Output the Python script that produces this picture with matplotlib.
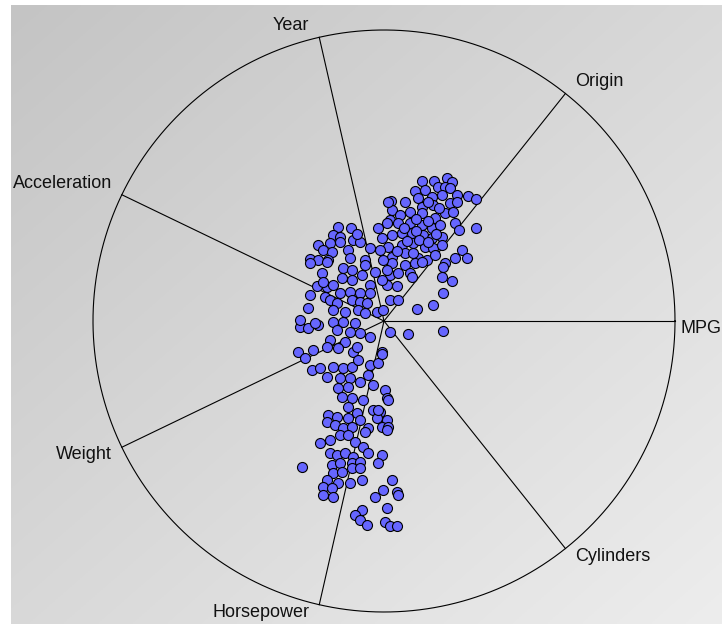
import numpy as np
import matplotlib.pyplot as plt

plt.rcParams['font.family'] = ['Liberation Sans', 'DejaVu Sans']

# radviz anchors, clockwise from MPG
anchors = ["MPG", "Cylinders", "Horsepower", "Weight", "Acceleration", "Year", "Origin"]

# projected points (unit circle coords)
cluster_upper = [
    (0.130, 0.482), (0.173, 0.482), (0.215, 0.490), (0.233, 0.479),
    (0.107, 0.448), (0.141, 0.450), (0.187, 0.462), (0.210, 0.462), (0.227, 0.456),
    (0.290, 0.430), (0.315, 0.418),
    (0.024, 0.413), (0.072, 0.410), (0.118, 0.422), (0.164, 0.427), (0.198, 0.433), (0.250, 0.433),
    (0.130, 0.393), (0.169, 0.399), (0.227, 0.404), (0.250, 0.410),
    (0.026, 0.381), (0.055, 0.364), (0.089, 0.376), (0.132, 0.370), (0.175, 0.353), (0.210, 0.370),
    (0.238, 0.376), (0.244, 0.336), (0.258, 0.313), (0.315, 0.319),
    (0.021, 0.347), (0.049, 0.336), (0.089, 0.336), (0.130, 0.330), (0.164, 0.319), (0.192, 0.330),
    (0.026, 0.296), (0.061, 0.301), (0.095, 0.301), (0.135, 0.296), (0.164, 0.284), (0.198, 0.290),
    (0.015, 0.255), (0.061, 0.261), (0.101, 0.267), (0.141, 0.255), (0.169, 0.250), (0.198, 0.261),
    (0.026, 0.221), (0.072, 0.233), (0.118, 0.215), (0.147, 0.210), (0.175, 0.227), (0.210, 0.198),
    (0.244, 0.215), (0.267, 0.244), (0.284, 0.215), (0.014, 0.409), (0.010, 0.337),
    (0.150, 0.410), (0.190, 0.390), (0.110, 0.350), (0.150, 0.345), (0.070, 0.320), (0.110, 0.310),
    (0.180, 0.300), (0.120, 0.280), (0.080, 0.275), (0.150, 0.270), (0.045, 0.240), (0.100, 0.235),
    (0.026, 0.198), (0.072, 0.192), (0.107, 0.198), (0.130, 0.204),
    (0.021, 0.158), (0.049, 0.164), (0.089, 0.164), (0.204, 0.187), (0.198, 0.152), (0.233, 0.138),
    (0.009, 0.124), (0.044, 0.120), (0.095, 0.152), (0.204, 0.095), (0.021, 0.072), (0.049, 0.072),
    (0.169, 0.055), (0.112, 0.040), (0.021, -0.037), (0.081, -0.045), (0.204, -0.033),
]

cluster_middle = [
    (-0.157, 0.322), (-0.113, 0.320), (-0.175, 0.296), (-0.151, 0.289), (-0.107, 0.278),
    (-0.227, 0.261), (-0.186, 0.268), (-0.151, 0.271), (-0.210, 0.244), (-0.179, 0.237),
    (-0.124, 0.244), (-0.082, 0.271), (-0.048, 0.251), (-0.014, 0.244), (-0.021, 0.320),
    (-0.007, 0.285), (-0.254, 0.213), (-0.227, 0.210), (-0.192, 0.210), (-0.117, 0.216),
    (-0.065, 0.210), (-0.093, 0.299),
    (-0.254, 0.198), (-0.197, 0.204), (-0.065, 0.192), (-0.002, 0.210), (-0.214, 0.164),
    (-0.140, 0.181), (-0.111, 0.175), (-0.077, 0.158), (-0.031, 0.169), (0.009, 0.175),
    (-0.145, 0.147), (-0.111, 0.141), (-0.048, 0.124), (-0.008, 0.141), (-0.231, 0.120),
    (-0.197, 0.118), (-0.174, 0.124), (-0.254, 0.089), (-0.203, 0.084), (-0.151, 0.095),
    (-0.117, 0.101), (-0.082, 0.095), (-0.048, 0.095), (-0.260, 0.044), (-0.186, 0.072),
    (-0.163, 0.061), (-0.111, 0.072), (-0.082, 0.066), (-0.059, 0.061), (-0.174, 0.038),
    (-0.134, 0.032), (-0.088, 0.038), (-0.065, 0.026), (-0.025, 0.032), (-0.002, 0.038),
    (-0.289, -0.020), (-0.260, -0.025), (-0.226, -0.014), (-0.174, -0.002), (-0.140, -0.002),
    (-0.100, -0.008), (-0.289, 0.003), (-0.237, -0.008), (-0.163, -0.031), (-0.117, -0.037),
    (-0.082, -0.042), (-0.048, -0.054), (-0.186, -0.065), (-0.134, -0.071), (-0.209, 0.135),
]

cluster_lower = [
    (-0.295, -0.105), (-0.271, -0.128), (-0.243, -0.100), (-0.197, -0.088), (-0.157, -0.094),
    (-0.105, -0.105), (-0.094, -0.088), (-0.008, -0.105), (-0.248, -0.168), (-0.220, -0.163),
    (-0.197, -0.191), (-0.174, -0.157), (-0.140, -0.163), (-0.111, -0.157), (-0.088, -0.134),
    (-0.048, -0.151), (-0.020, -0.145), (-0.151, -0.197), (-0.117, -0.197), (-0.082, -0.209),
    (-0.054, -0.186), (-0.037, -0.220), (-0.157, -0.231), (-0.123, -0.226), (0.003, -0.237),
    (-0.145, -0.260), (-0.111, -0.266), (-0.071, -0.271), (0.009, -0.266), (-0.123, -0.295),
    (-0.094, -0.317), (-0.037, -0.306), (-0.014, -0.312), (-0.191, -0.323), (-0.163, -0.329),
    (-0.123, -0.334), (-0.082, -0.340), (-0.025, -0.334), (0.009, -0.340), (-0.197, -0.346),
    (-0.168, -0.357), (-0.140, -0.369), (-0.111, -0.363), (-0.054, -0.369), (-0.008, -0.363),
    (-0.008, -0.113), (0.015, -0.271), (-0.020, -0.306), (0.015, -0.363),
    (-0.220, -0.420), (-0.186, -0.409), (-0.151, -0.392), (-0.123, -0.392), (-0.100, -0.415),
    (-0.065, -0.380), (0.009, -0.375), (-0.283, -0.503), (-0.186, -0.455), (-0.163, -0.460),
    (-0.134, -0.455), (-0.105, -0.466), (-0.071, -0.432), (-0.054, -0.455), (-0.008, -0.460),
    (-0.180, -0.495), (-0.151, -0.489), (-0.111, -0.489), (-0.082, -0.484), (-0.020, -0.489),
    (-0.174, -0.523), (-0.145, -0.518), (-0.111, -0.506), (-0.082, -0.506), (-0.197, -0.546),
    (-0.157, -0.558), (-0.117, -0.558), (-0.077, -0.546), (-0.209, -0.569), (-0.180, -0.575),
    (-0.209, -0.598), (-0.174, -0.604), (-0.031, -0.604), (-0.002, -0.581), (0.026, -0.546),
    (0.044, -0.587), (0.049, -0.598), (-0.077, -0.649), (-0.100, -0.667), (-0.082, -0.684),
    (-0.059, -0.701), (0.009, -0.644), (0.003, -0.690), (0.021, -0.704), (0.044, -0.703),
]

fig = plt.figure(figsize=(7.22, 6.24), dpi=100, facecolor='white')

# grey diagonal gradient panel (thin white strip on left and top)
bg = fig.add_axes([11 / 722, 0, 1 - 11 / 722, 1 - 5 / 624])
bg.axis('off')
gx, gy = np.meshgrid(np.linspace(0, 1, 256), np.linspace(0, 1, 256))
t = 0.5 * gx + 0.5 * gy
shade = (196 + (237 - 196) * t) / 255.0
bg.imshow(np.dstack([shade, shade, shade]), extent=[0, 1, 0, 1], aspect='auto', origin='upper')

ax = fig.add_axes([0, 0, 1, 1])
ax.set_facecolor('none')
ax.axis('off')
ax.set_xlim(-384 / 291, 338 / 291)
ax.set_ylim(-303 / 291, 321 / 291)

# outer circle
theta = np.linspace(0, 2 * np.pi, 500)
ax.plot(np.cos(theta), np.sin(theta), color='black', lw=0.8)

# spokes + labels
angles = -np.arange(len(anchors)) * 2 * np.pi / len(anchors)
for name, a in zip(anchors, angles):
    cx, cy = np.cos(a), np.sin(a)
    ax.plot([0, cx], [0, cy], color='black', lw=0.8)
    ha = 'left' if cx > 0.01 else 'right'
    va = 'bottom' if cy > 0.01 else 'top'
    dx = 10 if ha == 'left' else -10
    if name == "MPG":
        dx = 6
    dy = 3 if va == 'bottom' else 1
    ax.annotate(name, (cx, cy), xytext=(dx, dy), textcoords='offset pixels',
                ha=ha, va=va, fontsize=13, color='#111111')

pts = np.array(cluster_upper + cluster_middle + cluster_lower)
ax.scatter(pts[:, 0], pts[:, 1], s=52, color='#6666ff', edgecolors='black',
           linewidths=0.8, zorder=3)

fig.savefig('out.png', dpi=100)
